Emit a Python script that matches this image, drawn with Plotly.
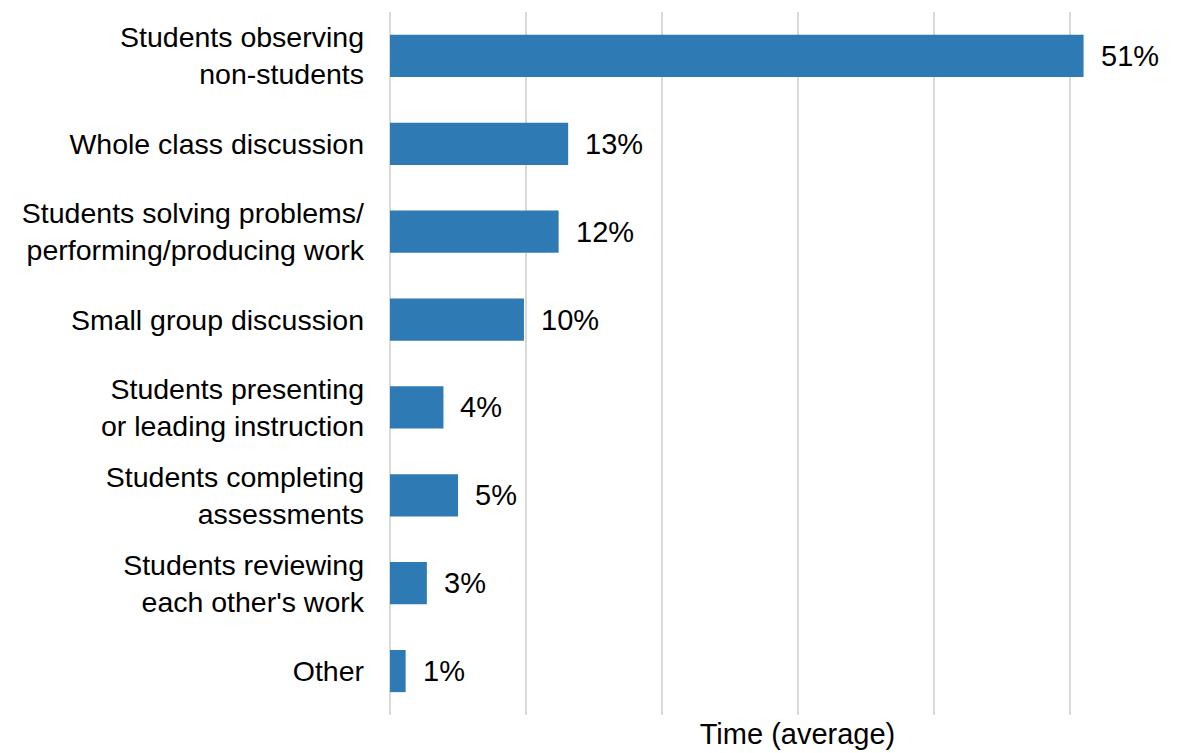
import plotly.graph_objects as go

categories = [
    "Students observing<br>non-students",
    "Whole class discussion",
    "Students solving problems/<br>performing/producing work",
    "Small group discussion",
    "Students presenting<br>or leading instruction",
    "Students completing<br>assessments",
    "Students reviewing<br>each other's work",
    "Other",
]
values = [51.0, 13.1, 12.4, 9.85, 3.93, 5.0, 2.71, 1.15]
value_labels = ["51%", "13%", "12%", "10%", "4%", "5%", "3%", "1%"]

FONT = "Liberation Sans, Arial, sans-serif"
FS = 28.5
FS2 = 29
BAR_COLOR = "#2E7AB5"
GRID = "#D9D9D9"

fig = go.Figure()
fig.add_trace(go.Bar(
    x=values,
    y=categories,
    orientation="h",
    marker=dict(color=BAR_COLOR, line=dict(width=0)),
    width=0.48,
    hoverinfo="skip",
))

for v, lab, cat in zip(values, value_labels, categories):
    fig.add_annotation(
        x=v, y=cat, xref="x", yref="y",
        text=lab, showarrow=False,
        xanchor="left", yanchor="middle",
        xshift=15,
        font=dict(family=FONT, size=FS2, color="#000000"),
    )

fig.update_layout(
    width=1197, height=753,
    margin=dict(l=382, r=0, t=4, b=46),
    plot_bgcolor="white", paper_bgcolor="white",
    showlegend=False,
    font=dict(family=FONT, size=FS, color="#000000"),
)
fig.update_xaxes(
    range=[0, 59.93],
    dtick=10, tick0=0,
    showgrid=True, gridcolor=GRID, gridwidth=1.5,
    zeroline=True, zerolinecolor=GRID, zerolinewidth=1.5,
    showline=False,
    showticklabels=False, ticks="",
    automargin=False,
    title=dict(text="Time (average)", font=dict(family=FONT, size=FS2, color="#000000"), standoff=8),
)
fig.update_yaxes(
    autorange="reversed",
    showgrid=False, zeroline=False, showline=False,
    ticks="", ticklabelstandoff=25,
    automargin=False,
    tickfont=dict(family=FONT, size=FS, color="#000000"),
)

fig.write_html("out.html")
